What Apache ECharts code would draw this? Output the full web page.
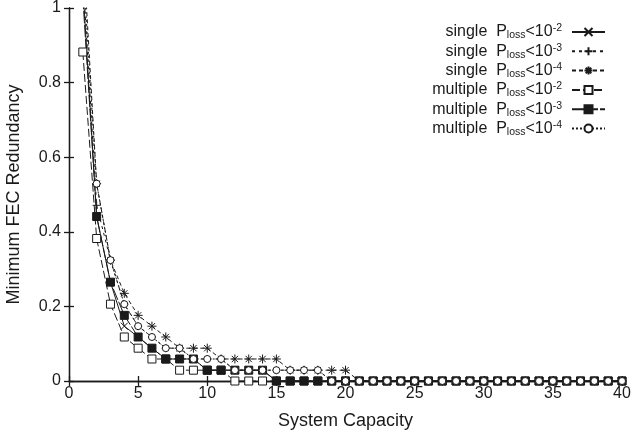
<!DOCTYPE html>
<html><head><meta charset="utf-8">
<script src="https://cdn.jsdelivr.net/npm/echarts@6/dist/echarts.min.js"></script>
<style>html,body{margin:0;padding:0;background:#fff}#c{width:633px;height:434px}</style>
</head><body><div id="c"></div>
<script>
// System capacity (x)
const capacity = [1,2,3,4,5,6,7,8,9,10,11,12,13,14,15,16,17,18,19,20,21,22,23,24,25,26,27,28,29,30,31,32,33,34,35,36,37,38,39,40];
// single, P_loss < 10^-2  (cross)
const singleP2 = [1.059,0.441,0.265,0.147,0.118,0.088,0.059,0.059,0.059,0.029,0.029,0.029,0.029,0.029,0,0,0,0,0,0,0,0,0,0,0,0,0,0,0,0,0,0,0,0,0,0,0,0,0,0];
// single, P_loss < 10^-3  (plus)
const singleP3 = [1.088,0.471,0.324,0.206,0.147,0.118,0.088,0.088,0.059,0.059,0.059,0.029,0.029,0.029,0.029,0.029,0.029,0.029,0,0,0,0,0,0,0,0,0,0,0,0,0,0,0,0,0,0,0,0,0,0];
// single, P_loss < 10^-4  (asterisk)
const singleP4 = [1.176,0.529,0.324,0.235,0.176,0.147,0.118,0.088,0.088,0.088,0.059,0.059,0.059,0.059,0.059,0.029,0.029,0.029,0.029,0.029,0,0,0,0,0,0,0,0,0,0,0,0,0,0,0,0,0,0,0,0];
// multiple, P_loss < 10^-2  (open square)
const multiP2 = [0.882,0.382,0.206,0.118,0.088,0.059,0.059,0.029,0.029,0.029,0.029,0,0,0,0,0,0,0,0,0,0,0,0,0,0,0,0,0,0,0,0,0,0,0,0,0,0,0,0,0];
// multiple, P_loss < 10^-3  (filled square)
const multiP3 = [1.029,0.441,0.265,0.176,0.118,0.088,0.059,0.059,0.059,0.029,0.029,0.029,0.029,0.029,0,0,0,0,0,0,0,0,0,0,0,0,0,0,0,0,0,0,0,0,0,0,0,0,0,0];
// multiple, P_loss < 10^-4  (open circle)
const multiP4 = [1.118,0.529,0.324,0.206,0.147,0.118,0.088,0.088,0.059,0.059,0.059,0.029,0.029,0.029,0.029,0.029,0.029,0.029,0,0,0,0,0,0,0,0,0,0,0,0,0,0,0,0,0,0,0,0,0,0];

const legendKind = ['single','single','single','multiple','multiple','multiple'];
const legendExp = ['-2','-3','-4','-2','-3','-4'];
const xTitle = 'System Capacity';
const yTitle = 'Minimum FEC Redundancy';

const FONT = "'Liberation Sans', Arial, Helvetica, sans-serif";
const INK = '#1a1a1a';

const names = legendKind.map((k,i)=> k + '  Ploss<10' + legendExp[i]);

const CROSS = 'path://M0,0L10,10M0,10L10,0';
const PLUS = 'path://M0,5L10,5M5,0L5,10';
const STAR = 'path://M0,5L10,5M5,0L5,10M1.5,1.5L8.5,8.5M1.5,8.5L8.5,1.5';

function mk(i, vals, symbol, size, fill, dash) {
  return {
    name: names[i], type: 'line',
    data: capacity.map((c, j) => [c, vals[j]]),
    symbol: symbol, symbolSize: size, showSymbol: true, clip: true,
    itemStyle: { color: fill, borderColor: INK, borderWidth: 1 },
    lineStyle: { color: INK, width: 1, type: dash },
    emphasis: { disabled: true }, animation: false
  };
}

const series = [
  mk(0, singleP2, CROSS, 7, INK, 'solid'),
  mk(1, singleP3, PLUS, 8, INK, [3, 4]),
  mk(2, singleP4, STAR, 9, INK, [4, 3]),
  mk(3, multiP2, 'rect', 8, '#fff', [8, 3]),
  mk(4, multiP3, 'rect', 8, INK, [12, 2]),
  mk(5, multiP4, 'circle', 7, '#fff', [2, 2])
];

const axisLineStyle = { color: INK, width: 1.3 };

const chart = echarts.init(document.getElementById('c'), null, { renderer: 'canvas' });
chart.setOption({
  animation: false,
  backgroundColor: '#fff',
  grid: { left: 69, right: 11, top: 8, bottom: 53, containLabel: false, outerBoundsMode: 'none' },
  xAxis: [
    { type: 'value', min: 0, max: 40, interval: 5, position: 'bottom',
      axisLine: { show: true, lineStyle: axisLineStyle },
      axisTick: { show: true, inside: true, length: 5, lineStyle: axisLineStyle },
      axisLabel: { fontSize: 16, color: INK, margin: 5, fontFamily: FONT },
      splitLine: { show: false },
      name: xTitle, nameLocation: 'middle', nameGap: 31,
      nameTextStyle: { fontSize: 18, color: INK, fontFamily: FONT } },
    { type: 'value', min: 0, max: 40, interval: 5, position: 'top',
      axisLine: { show: true, lineStyle: axisLineStyle },
      axisTick: { show: true, inside: true, length: 5, lineStyle: axisLineStyle },
      axisLabel: { show: false }, splitLine: { show: false } }
  ],
  yAxis: [
    { type: 'value', min: 0, max: 1, interval: 0.2, position: 'left',
      axisLine: { show: true, lineStyle: axisLineStyle },
      axisTick: { show: true, inside: true, length: 5, lineStyle: axisLineStyle },
      axisLabel: { fontSize: 16, color: INK, margin: 8, fontFamily: FONT },
      splitLine: { show: false },
      name: yTitle, nameLocation: 'middle', nameGap: 46,
      nameTextStyle: { fontSize: 18, color: INK, fontFamily: FONT } },
    { type: 'value', min: 0, max: 1, interval: 0.2, position: 'right',
      axisLine: { show: true, lineStyle: axisLineStyle },
      axisTick: { show: true, inside: true, length: 5, lineStyle: axisLineStyle },
      axisLabel: { show: false }, splitLine: { show: false } }
  ],
  legend: {
    orient: 'vertical', align: 'right', right: 22, top: 18,
    itemWidth: 33, itemHeight: 10, itemGap: 1.3, selectedMode: false,
    data: names,
    formatter: function (n) {
      const i = names.indexOf(n);
      return '{m|' + legendKind[i] + '  P}{sub|loss}{m|<10}{sup|' + legendExp[i] + '}';
    },
    textStyle: {
      fontFamily: FONT, fontSize: 16, color: INK, padding: [0, 5, 0, 0],
      rich: {
        m: { fontFamily: FONT, fontSize: 16, color: INK, lineHeight: 18 },
        sub: { fontFamily: FONT, fontSize: 10.5, color: INK, lineHeight: 10, verticalAlign: 'bottom' },
        sup: { fontFamily: FONT, fontSize: 10.5, color: INK, lineHeight: 10, verticalAlign: 'top' }
      }
    }
  },
  series: series
});
</script>
</body></html>
